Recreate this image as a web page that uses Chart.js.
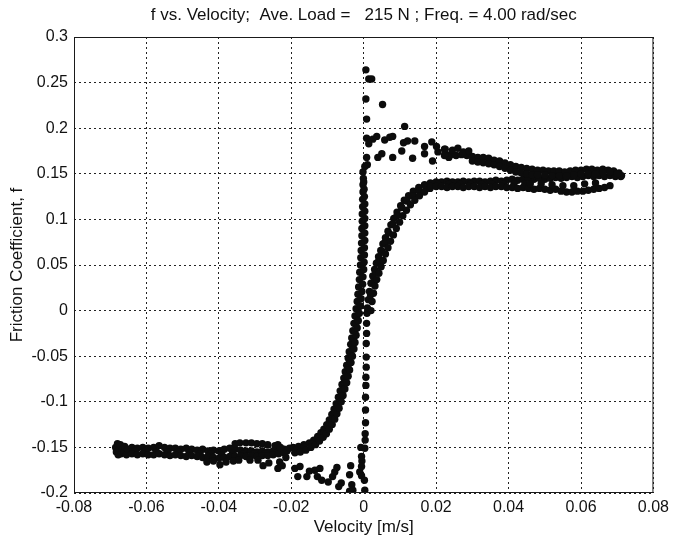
<!DOCTYPE html>
<html>
<head>
<meta charset="utf-8">
<script src="https://cdn.jsdelivr.net/npm/chart.js@4.4.0/dist/chart.umd.min.js"></script>
<style>
  body { margin: 0; background: #fff; }
  #chart-friction { display: block; }
</style>
</head>
<body>
<canvas id="chart-friction" width="674" height="540"></canvas>
<script>
// tick values
var xTicks = [-0.08, -0.06, -0.04, -0.02, 0, 0.02, 0.04, 0.06, 0.08];
var yTicks = [-0.2, -0.15, -0.1, -0.05, 0, 0.05, 0.1, 0.15, 0.2, 0.25, 0.3];

// [velocity m/s, friction coefficient], one list per branch of the loop
var negPlateau = [
  [-0.0685,-0.150],[-0.0683,-0.155],[-0.0680,-0.146],[-0.0678,-0.158],[-0.0675,-0.152],[-0.0672,-0.147],
  [-0.0670,-0.157],[-0.0666,-0.152],[-0.0662,-0.155],[-0.0660,-0.149],[-0.0655,-0.158],[-0.0652,-0.152],
  [-0.064,-0.150],[-0.0625,-0.151],[-0.061,-0.150],[-0.0595,-0.151],[-0.058,-0.150],[-0.0565,-0.148],
  [-0.055,-0.150],[-0.0535,-0.151],[-0.052,-0.151],[-0.0505,-0.152],[-0.049,-0.151],[-0.0475,-0.152],
  [-0.046,-0.153],[-0.0445,-0.152],[-0.043,-0.154],[-0.0415,-0.153],[-0.040,-0.154],[-0.0385,-0.152],
  [-0.037,-0.151],[-0.0355,-0.152],[-0.034,-0.153],[-0.0325,-0.154],[-0.031,-0.154],[-0.0295,-0.155],
  [-0.028,-0.154],[-0.0265,-0.155],[-0.025,-0.154],[-0.0235,-0.153],[-0.022,-0.152],[-0.0205,-0.151],
  [-0.0632,-0.154],[-0.0602,-0.154],[-0.0572,-0.155],[-0.0542,-0.155],[-0.0512,-0.155],[-0.0482,-0.156],
  [-0.0452,-0.157],[-0.0422,-0.157],[-0.0392,-0.158],[-0.0362,-0.156],[-0.0332,-0.157],[-0.0302,-0.157],
  [-0.0272,-0.157],[-0.0242,-0.156],[-0.0212,-0.154],
  [-0.064,-0.157],[-0.0625,-0.158],[-0.061,-0.157],[-0.0595,-0.158],[-0.058,-0.158],[-0.0565,-0.157],
  [-0.055,-0.158],[-0.0535,-0.159],[-0.052,-0.158],[-0.0505,-0.159],[-0.049,-0.160],[-0.0475,-0.159],
  [-0.046,-0.160],[-0.0445,-0.161],[-0.043,-0.160],[-0.0415,-0.161],[-0.040,-0.162],[-0.0385,-0.161],
  [-0.037,-0.160],[-0.0355,-0.160],[-0.034,-0.159],[-0.0325,-0.160],[-0.031,-0.159],[-0.0295,-0.160],
  [-0.028,-0.159],[-0.0265,-0.159],[-0.025,-0.158],[-0.0235,-0.157],[-0.022,-0.156],
  [-0.0433,-0.166],[-0.0415,-0.165],[-0.0397,-0.169],[-0.038,-0.166],[-0.036,-0.165],[-0.0345,-0.164],
  [-0.0314,-0.164],[-0.0292,-0.164],[-0.0278,-0.170],[-0.0262,-0.167],[-0.0237,-0.173],[-0.0232,-0.166],
  [-0.0215,-0.161],[-0.0225,-0.170],
  [-0.0355,-0.146],[-0.0342,-0.145],[-0.0325,-0.145],[-0.031,-0.145],[-0.0295,-0.146],[-0.028,-0.146],
  [-0.0265,-0.147],[-0.0245,-0.148],[-0.0237,-0.147],[-0.023,-0.150]
];

var leftRise = [
  [-0.0195,-0.150],[-0.018,-0.149],[-0.0165,-0.147],[-0.015,-0.145],[-0.0138,-0.142],[-0.0127,-0.138],
  [-0.0118,-0.134],[-0.011,-0.130],[-0.0102,-0.125],[-0.0095,-0.120],[-0.0088,-0.114],[-0.0082,-0.108],
  [-0.0076,-0.102],[-0.0070,-0.095],[-0.0065,-0.088],[-0.0060,-0.081],[-0.0055,-0.074],[-0.0051,-0.067],
  [-0.0047,-0.060],[-0.0043,-0.052],[-0.0040,-0.045],[-0.0036,-0.037],[-0.0033,-0.030],[-0.0030,-0.022],
  [-0.0027,-0.014],[-0.0024,-0.006],[-0.0021,0.002],[-0.0018,0.010],[-0.0016,0.018],[-0.0014,0.026],
  [-0.0012,0.034],[-0.0011,0.042],[-0.0009,0.050],[-0.0008,0.058],[-0.0007,0.066],[-0.0006,0.074],
  [-0.0005,0.082],[-0.0005,0.090],[-0.0004,0.098],[-0.0004,0.106],[-0.0003,0.114],[-0.0003,0.122],
  [-0.0188,-0.153],[-0.0164,-0.150],[-0.0142,-0.146],[-0.0124,-0.140],[-0.0110,-0.134],[-0.0098,-0.127],
  [-0.0088,-0.119],[-0.0079,-0.111],[-0.0071,-0.103],[-0.0064,-0.095],[-0.0058,-0.087],[-0.0053,-0.079],
  [-0.0048,-0.071],[-0.0043,-0.063],[-0.0039,-0.055],[-0.0035,-0.047],[-0.0031,-0.039],[-0.0028,-0.031],
  [-0.0025,-0.023],[-0.0022,-0.015],[-0.0019,-0.007],[-0.0016,0.001],
  [-0.0190,-0.156],[-0.0175,-0.155],[-0.0160,-0.153],[-0.0146,-0.150],[-0.0133,-0.147],[-0.0122,-0.143],
  [-0.0112,-0.139],[-0.0103,-0.135],[-0.0095,-0.130],[-0.0087,-0.125],[-0.0080,-0.119],[-0.0074,-0.113],
  [-0.0068,-0.107],[-0.0062,-0.100],[-0.0057,-0.093],[-0.0052,-0.086],[-0.0047,-0.079],[-0.0043,-0.072],
  [-0.0039,-0.065],[-0.0035,-0.057],[-0.0031,-0.050],[-0.0027,-0.042],[-0.0024,-0.035],[-0.0021,-0.027],
  [-0.0018,-0.019],[-0.0015,-0.011],[-0.0012,-0.003],[-0.0009,0.005],[-0.0007,0.013],[-0.0005,0.021],
  [-0.0003,0.029],[-0.0002,0.037],[0.0000,0.045],[0.0001,0.053],[0.0002,0.061],[0.0002,0.069],
  [0.0003,0.077],[0.0003,0.085],[0.0003,0.093],[0.0003,0.101],[0.0003,0.109],[0.0003,0.117],
  [0.0002,0.125],[0.0001,0.133],[0.0000,0.141]
];

var spike = [
  [-0.0002,0.130],[-0.0002,0.138],[-0.0001,0.145],[-0.0002,0.152],[0.0003,0.158],[0.0010,0.160],
  [0.0008,0.168],[0.0008,0.189],[0.0014,0.183],[0.0008,0.210],[0.0006,0.232],[0.0014,0.254],
  [0.0022,0.254],[0.0006,0.264]
];

var upperScatter = [
  [0.0025,0.188],[0.0036,0.191],[0.0058,0.187],[0.0072,0.190],[0.0080,0.191],[0.0110,0.184],
  [0.0121,0.186],[0.0141,0.186],[0.0168,0.180],[0.0188,0.185],[0.0201,0.180],[0.0223,0.177],
  [0.0039,0.168],[0.0050,0.172],[0.0080,0.168],[0.0105,0.175],[0.0135,0.167],[0.0168,0.172],
  [0.0190,0.164],[0.0223,0.170],[0.0052,0.226],[0.0113,0.202]
];

var posPlateau = [
  [0.0200,0.141],[0.0215,0.141],[0.023,0.142],[0.0245,0.141],[0.026,0.141],[0.0275,0.142],
  [0.029,0.141],[0.0305,0.142],[0.032,0.142],[0.0335,0.141],[0.035,0.142],[0.0365,0.143],
  [0.038,0.142],[0.0395,0.143],[0.041,0.144],[0.0425,0.143],[0.044,0.144],[0.0455,0.145],
  [0.047,0.144],[0.0485,0.145],[0.050,0.144],[0.0515,0.145],[0.053,0.146],[0.0545,0.145],
  [0.056,0.146],[0.0575,0.147],[0.059,0.146],[0.0605,0.147],[0.062,0.148],[0.0635,0.147],
  [0.065,0.148],[0.0665,0.147],[0.068,0.148],[0.0695,0.147],[0.0710,0.147],
  [0.0205,0.1385],[0.0235,0.1385],[0.0265,0.1385],[0.0295,0.1385],[0.0325,0.1385],[0.0355,0.1385],
  [0.0385,0.139],[0.0415,0.139],[0.0445,0.139],
  [0.0185,0.136],[0.020,0.136],[0.0215,0.136],[0.023,0.135],[0.0245,0.136],[0.026,0.136],
  [0.0275,0.135],[0.029,0.136],[0.0305,0.136],[0.032,0.135],[0.0335,0.136],[0.035,0.135],
  [0.0365,0.136],[0.038,0.136],[0.0395,0.135],[0.041,0.135],[0.0425,0.134],[0.044,0.135],
  [0.0455,0.134],[0.047,0.133],[0.0485,0.134],[0.050,0.133],[0.0515,0.132],[0.053,0.133],
  [0.0545,0.131],[0.056,0.130],[0.0575,0.130],[0.059,0.131],[0.0605,0.131],[0.062,0.132],
  [0.0635,0.133],[0.065,0.134],[0.0665,0.135],[0.068,0.137],
  [0.046,0.139],[0.049,0.139],[0.052,0.138],[0.055,0.137],[0.058,0.137],[0.061,0.139],[0.064,0.140],
  [0.047,0.1475],[0.050,0.1475],[0.053,0.1495],[0.056,0.1505],[0.059,0.1505],[0.062,0.151],[0.065,0.1515],
  [0.0225,0.172],[0.024,0.171],[0.0255,0.170],[0.027,0.171],[0.0285,0.170],[0.030,0.169],
  [0.0315,0.168],[0.033,0.168],[0.0345,0.167],[0.036,0.165],[0.0375,0.164],[0.039,0.162],
  [0.0405,0.160],[0.042,0.158],[0.0435,0.157],[0.045,0.156],[0.0465,0.155],[0.048,0.154],
  [0.0495,0.154],[0.051,0.153],[0.0525,0.153],[0.054,0.153],[0.0555,0.152],[0.057,0.153],
  [0.0585,0.154],[0.060,0.154],[0.0615,0.155],[0.063,0.155],[0.0645,0.154],[0.066,0.155],
  [0.0675,0.154],[0.069,0.153],[0.0705,0.151],[0.0712,0.148],
  [0.030,0.164],[0.0315,0.163],[0.033,0.162],[0.0345,0.161],[0.036,0.160],[0.0375,0.158],
  [0.039,0.156],[0.0405,0.154],[0.042,0.152],[0.0435,0.151],[0.045,0.150],[0.0465,0.149],
  [0.048,0.149],[0.050,0.149],[0.052,0.148],[0.054,0.148],[0.056,0.148],[0.058,0.149],
  [0.060,0.150],[0.062,0.150],[0.064,0.150],[0.066,0.151],[0.068,0.152],[0.070,0.150],
  [0.0225,0.177],[0.0245,0.176],[0.026,0.178],[0.0275,0.174],[0.029,0.175],[0.0205,0.174],[0.0235,0.168]
];

var rightRise = [
  [0.0003,-0.197],[0.0002,-0.186],[-0.0006,-0.171],[-0.0006,-0.160],[0.0003,-0.151],[0.0004,-0.142],
  [0.0004,-0.135],[0.0005,-0.123],[0.0005,-0.109],[0.0005,-0.095],[0.0006,-0.082],[0.0006,-0.073],
  [0.0007,-0.062],[0.0007,-0.051],[0.0007,-0.036],[0.0008,-0.025],[0.0008,-0.014],[0.0009,-0.003],
  [0.0010,0.003],[0.0013,0.012],[0.0016,0.021],[0.0020,0.030],[0.0025,0.038],[0.0030,0.045],
  [0.0035,0.052],[0.0041,0.059],[0.0047,0.066],[0.0053,0.073],[0.0060,0.080],[0.0067,0.087],
  [0.0075,0.094],[0.0083,0.101],[0.0092,0.108],[0.0102,0.115],[0.0112,0.121],[0.0124,0.126],
  [0.0137,0.131],[0.0152,0.135],[0.0168,0.138],[0.0184,0.140],
  [0.0019,0.017],[0.0026,0.031],[0.0033,0.043],[0.0041,0.054],[0.0050,0.065],[0.0059,0.075],
  [0.0069,0.085],[0.0080,0.095],[0.0092,0.104],[0.0105,0.113],[0.0120,0.120],[0.0136,0.126],
  [0.0154,0.131],[0.0172,0.135],
  [0.0020,0.000],[0.0023,0.010],[0.0027,0.019],[0.0031,0.027],[0.0036,0.034],[0.0042,0.041],
  [0.0048,0.048],[0.0054,0.055],[0.0060,0.062],[0.0067,0.069],[0.0074,0.076],[0.0082,0.083],
  [0.0090,0.090],[0.0099,0.097],[0.0108,0.104],[0.0118,0.110],[0.0129,0.116],[0.0141,0.121],
  [0.0154,0.126],[0.0168,0.130],[0.0183,0.134]
];

var lowerScatter = [
  [-0.0190,-0.173],[-0.0182,-0.182],[-0.0176,-0.171],[-0.0157,-0.182],[-0.0150,-0.176],[-0.0135,-0.175],
  [-0.0128,-0.182],[-0.0121,-0.173],[-0.0116,-0.186],[-0.0098,-0.188],[-0.0086,-0.182],[-0.0080,-0.177],
  [-0.0074,-0.172],[-0.0069,-0.193],[-0.0062,-0.189],[-0.0039,-0.180],[-0.0036,-0.170],[-0.0033,-0.191],
  [-0.0030,-0.197],[-0.0039,-0.198],[-0.0011,-0.177],[-0.0006,-0.181],[-0.0008,-0.150],[-0.0005,-0.165]
];

var branches = [negPlateau, leftRise, spike, upperScatter, posPlateau, rightRise, lowerScatter];

var FONT = "'Liberation Sans', Arial, sans-serif";
var INK = '#111';

// box + title like the matlab figure
var framePlugin = {
  id: 'frame',
  afterDraw: function (chart) {
    var a = chart.chartArea;
    var ctx = chart.ctx;
    ctx.save();
    ctx.strokeStyle = '#1a1a1a';
    ctx.lineWidth = 1;
    ctx.setLineDash([]);
    ctx.strokeRect(a.left + 0.5, a.top + 0.5, a.right - a.left - 1, a.bottom - a.top - 1);
    ctx.fillStyle = INK;
    ctx.font = '17px ' + FONT;
    ctx.textAlign = 'center';
    ctx.textBaseline = 'middle';
    ctx.fillText('f vs. Velocity;  Ave. Load =   215 N ; Freq. = 4.00 rad/sec', (a.left + a.right) / 2, 15);
    ctx.restore();
  }
};

function fmt(v) {
  return String(Number(v.toFixed(2)));
}

var ctx = document.getElementById('chart-friction').getContext('2d');
var chart1 = new Chart(ctx, {
  type: 'scatter',
  data: {
    datasets: branches.map(function (b) {
      return {
        data: b.map(function (p) { return { x: p[0], y: p[1] }; }),
        backgroundColor: '#0c0c0c',
        borderWidth: 0,
        pointRadius: 3.7,
        pointHoverRadius: 3.7
      };
    })
  },
  options: {
    responsive: false,
    animation: false,
    layout: { padding: { top: 37, right: 20, left: 0, bottom: 0 } },
    plugins: {
      legend: { display: false },
      tooltip: { enabled: false },
      title: { display: false }
    },
    scales: {
      x: {
        type: 'linear',
        min: -0.08,
        max: 0.08,
        afterBuildTicks: function (s) { s.ticks = xTicks.map(function (v) { return { value: v }; }); },
        afterFit: function (s) { s.height = 47; },
        grid: { color: '#222', lineWidth: 1, drawTicks: false },
        border: { display: false, dash: [2, 3] },
        ticks: {
          color: INK, font: { family: FONT, size: 16 }, padding: 5, maxRotation: 0,
          callback: function (v) { return fmt(v); }
        },
        title: {
          display: true, text: 'Velocity [m/s]', color: INK,
          font: { family: FONT, size: 17 }, padding: { top: 0, bottom: 2 }
        }
      },
      y: {
        type: 'linear',
        min: -0.2,
        max: 0.3,
        afterBuildTicks: function (s) { s.ticks = yTicks.map(function (v) { return { value: v }; }); },
        afterFit: function (s) { s.width = 74; },
        grid: { color: '#222', lineWidth: 1, drawTicks: false },
        border: { display: false, dash: [2, 3] },
        ticks: {
          color: INK, font: { family: FONT, size: 16 }, padding: 6,
          callback: function (v) { return fmt(v); }
        },
        title: {
          display: true, text: 'Friction Coefficient, f', color: INK,
          font: { family: FONT, size: 17 }, padding: { top: 7, bottom: 0 }
        }
      }
    }
  },
  plugins: [framePlugin]
});
</script>
</body>
</html>
